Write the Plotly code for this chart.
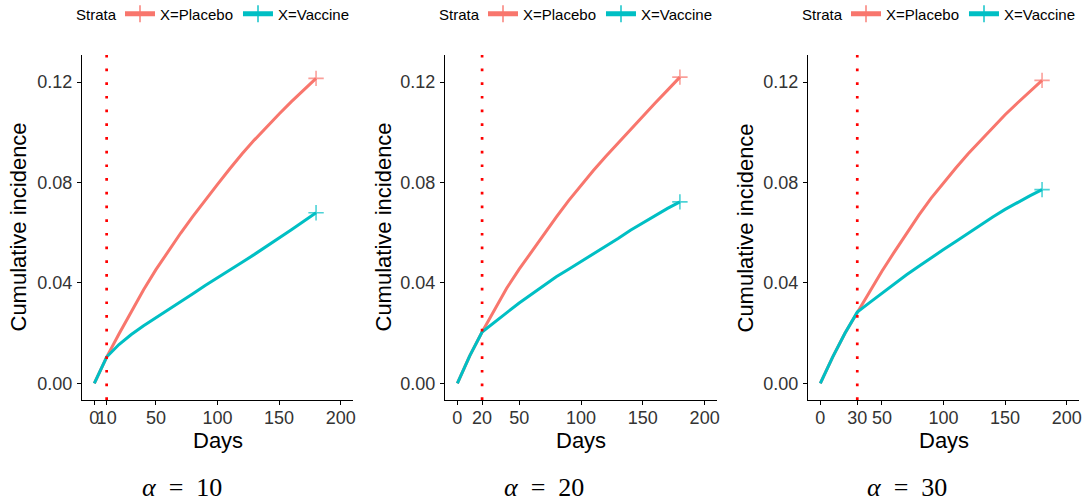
import plotly.graph_objects as go

# ---------------- data ----------------
days = [0, 10, 20, 30, 40, 50, 60, 70, 80, 90, 100, 110, 120, 130, 140, 150, 160, 170, 180]
alphas = [10, 20, 30]

placebo_a10 = [0.000, 0.0105, 0.0197, 0.0287, 0.0373, 0.0453, 0.0528, 0.0598, 0.0665, 0.0730,
               0.0793, 0.0855, 0.0915, 0.0970, 0.1023, 0.1073, 0.1122, 0.1169, 0.1215]
vaccine_a10 = [0.000, 0.0105, 0.0155, 0.0195, 0.0230, 0.0261, 0.0292, 0.0324, 0.0357, 0.0390,
               0.0422, 0.0453, 0.0483, 0.0514, 0.0546, 0.0579, 0.0612, 0.0646, 0.0680]

placebo_a20 = [0.000, 0.0110, 0.0205, 0.0295, 0.0380, 0.0455, 0.0525, 0.0594, 0.0662, 0.0728,
               0.0790, 0.0848, 0.0904, 0.0958, 0.1012, 0.1065, 0.1117, 0.1168, 0.1220]
vaccine_a20 = [0.000, 0.0110, 0.0205, 0.0245, 0.0282, 0.0320, 0.0355, 0.0390, 0.0425, 0.0455,
               0.0485, 0.0515, 0.0545, 0.0577, 0.0610, 0.0640, 0.0670, 0.0697, 0.0723]

placebo_a30 = [0.000, 0.0105, 0.0200, 0.0284, 0.0368, 0.0447, 0.0523, 0.0598, 0.0670, 0.0738,
               0.0800, 0.0858, 0.0915, 0.0968, 0.1020, 0.1070, 0.1117, 0.1163, 0.1207]
vaccine_a30 = [0.000, 0.0105, 0.0200, 0.0284, 0.0322, 0.0360, 0.0397, 0.0433, 0.0467, 0.0501,
               0.0533, 0.0565, 0.0598, 0.0630, 0.0663, 0.0693, 0.0721, 0.0747, 0.0772]

placebo = [placebo_a10, placebo_a20, placebo_a30]
vaccine = [vaccine_a10, vaccine_a20, vaccine_a30]

series_names = ["X=Placebo", "X=Vaccine"]
series_colors = ["#F8766D", "#00BFC4"]
legend_title = "Strata"
y_ticks = [0.00, 0.04, 0.08, 0.12]
y_ticktext = ["0.00", "0.04", "0.08", "0.12"]
x_ticks_base = [0, 50, 100, 150, 200]

# ---------------- layout geometry ----------------
W, H = 1091, 504
x_doms = [(82, 353), (445, 717), (808, 1079)]   # px
y_top, y_bot = 55, 400
sub_centers = [182, 544, 907]
ytitle_x = [18, 383, 745]
strata_x = [74, 437, 800]
legend_x = [120, 483, 846]
legend_y = 14

SANS = "Liberation Sans, Arial, sans-serif"
NB = "\u00a0"

fig = go.Figure()
n = len(days)
for i, a in enumerate(alphas):
    xa = "x" if i == 0 else f"x{i+1}"
    ya = "y" if i == 0 else f"y{i+1}"
    lg = "legend" if i == 0 else f"legend{i+1}"
    for name, color, vals in zip(series_names, series_colors, [placebo[i], vaccine[i]]):
        sizes = [0] * (n - 1) + [11]
        fig.add_trace(go.Scatter(
            x=days, y=vals, mode="lines+markers", name=name,
            line=dict(color=color, width=3),
            marker=dict(symbol="cross-thin-open", size=sizes, color=color,
                        line=dict(color=color, width=1.6)),
            xaxis=xa, yaxis=ya, legend=lg,
        ))
    # vertical dotted line at alpha
    fig.add_shape(type="line", xref=xa, yref=f"{ya} domain", x0=a, x1=a, y0=0, y1=1,
                  line=dict(color="#FF0000", width=2.7, dash="2.7px,11px"))

layout = dict(width=W, height=H, margin=dict(l=0, r=0, t=0, b=0, autoexpand=False),
              plot_bgcolor="white", paper_bgcolor="white", font=dict(family=SANS))
annotations = []
for i, a in enumerate(alphas):
    sfx = "" if i == 0 else str(i + 1)
    x0, x1 = x_doms[i]
    ticks = sorted(set(x_ticks_base + [a]))
    layout[f"xaxis{sfx}"] = dict(
        domain=[x0 / W, x1 / W], range=[-10, 210], anchor=f"y{sfx}",
        tickvals=ticks, ticktext=[str(t) for t in ticks], tickangle=0,
        showline=True, linecolor="black", linewidth=1.2, ticks="outside", ticklen=4,
        tickcolor="black", tickwidth=1.2, tickfont=dict(size=18, color="#333333", family=SANS),
        ticklabelstandoff=-3,
        showgrid=False, zeroline=False, automargin=False)
    layout[f"yaxis{sfx}"] = dict(
        domain=[(H - y_bot) / H, (H - y_top) / H], range=[-0.0066, 0.1308], anchor=f"x{sfx}",
        tickvals=y_ticks, ticktext=y_ticktext,
        showline=True, linecolor="black", linewidth=1.2, ticks="outside", ticklen=4,
        tickcolor="black", tickwidth=1.2, tickfont=dict(size=18, color="#333333", family=SANS),
        ticklabelstandoff=1,
        showgrid=False, zeroline=False, automargin=False)
    lgname = "legend" if i == 0 else f"legend{i+1}"
    layout[lgname] = dict(
        orientation="h", x=legend_x[i] / W, xanchor="left", y=(H - legend_y) / H,
        yanchor="middle",
        font=dict(size=15, color="black", family=SANS), itemsizing="constant",
        bgcolor="rgba(0,0,0,0)", borderwidth=0)
    annotations.append(dict(text=legend_title, x=strata_x[i] / W, y=(H - legend_y) / H,
                            xref="paper", yref="paper", showarrow=False,
                            xanchor="left", yanchor="middle",
                            font=dict(size=15, color="black", family=SANS)))
    annotations.append(dict(text="Days", x=(x0 + x1) / 2 / W, y=(H - 440) / H,
                            xref="paper", yref="paper", showarrow=False,
                            xanchor="center", yanchor="middle",
                            font=dict(size=22, color="black", family=SANS)))
    annotations.append(dict(text="Cumulative incidence", x=ytitle_x[i] / W,
                            y=(H - (y_top + y_bot) / 2) / H, textangle=-90,
                            xref="paper", yref="paper", showarrow=False,
                            xanchor="center", yanchor="middle",
                            font=dict(size=22, color="black", family=SANS)))
    annotations.append(dict(text=f"<i>α</i>{NB}{NB}={NB}{NB}{a}", x=sub_centers[i] / W,
                            y=(H - 487) / H, xref="paper", yref="paper", showarrow=False,
                            xanchor="center", yanchor="middle",
                            font=dict(size=26, color="black",
                                      family="Liberation Serif, DejaVu Serif, serif")))
layout["annotations"] = annotations
fig.update_layout(**layout)
fig.write_html("out.html", config={"displayModeBar": False},
               post_script="document.body.style.margin='0';document.body.style.overflow='hidden';")
